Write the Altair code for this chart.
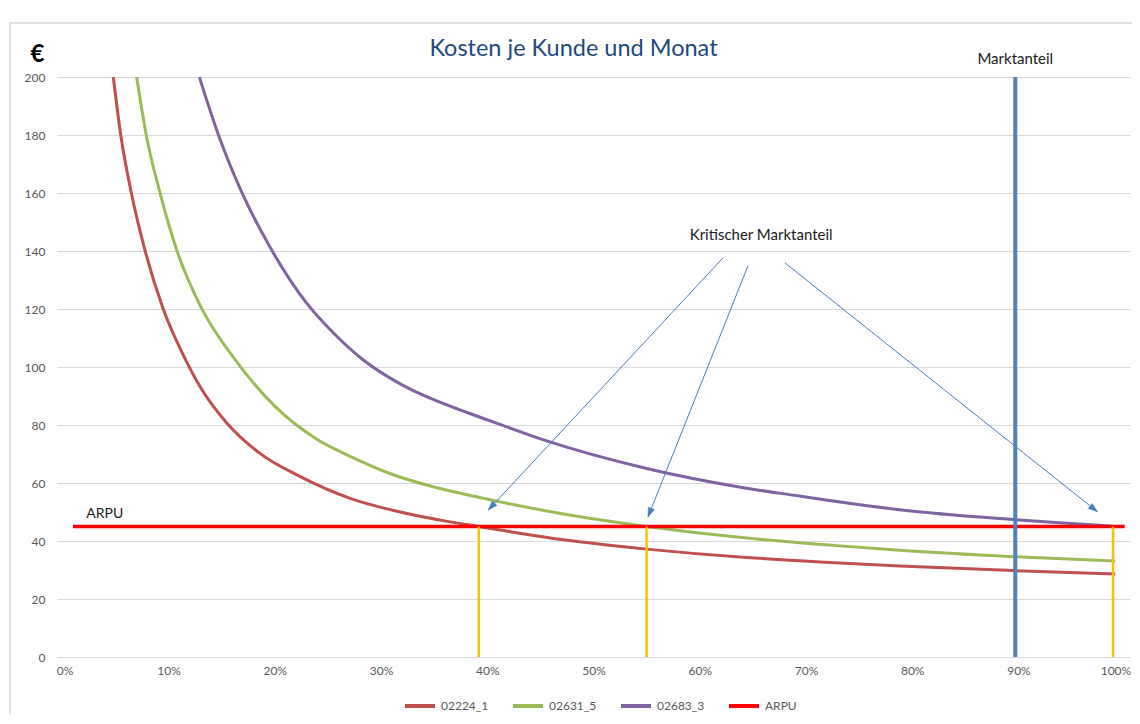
import math
import altair as alt
import pandas as pd

# ---------------- data ----------------
red_pct = [0.048, 0.055, 0.065, 0.078, 0.095, 0.114, 0.130, 0.155, 0.186, 0.224, 0.271, 0.318,
           0.365, 0.392, 0.412, 0.472, 0.550, 0.644, 0.694, 0.722, 0.788, 0.895, 0.991]
red_val = [200, 180, 160, 140, 120, 104.0, 93.0, 80.6, 70.2, 62.2, 54.7, 50.0,
           46.6, 45.0, 43.8, 40.4, 37.2, 34.3, 33.2, 32.6, 31.4, 29.8, 28.6]

green_pct = [0.070, 0.079, 0.092, 0.108, 0.130, 0.163, 0.200, 0.240, 0.271, 0.309, 0.349,
             0.393, 0.412, 0.472, 0.550, 0.644, 0.694, 0.722, 0.788, 0.895, 0.991]
green_val = [200, 180, 160, 140, 121, 102.4, 86.5, 75.0, 69.2, 63.2, 58.7,
             55.0, 53.5, 49.3, 45.0, 41.0, 39.4, 38.6, 36.8, 34.6, 33.1]

purple_pct = [0.129, 0.147, 0.168, 0.196, 0.230, 0.255, 0.283, 0.318, 0.349, 0.381, 0.412,
              0.456, 0.550, 0.644, 0.694, 0.722, 0.788, 0.895, 0.976, 0.990]
purple_val = [200, 180, 161, 141, 122, 111.8, 102.5, 94.2, 88.8, 84.3, 80.2,
              74.5, 65.0, 58.2, 55.5, 54.0, 50.8, 47.4, 45.4, 45.0]

series_names = ["02224_1", "02631_5", "02683_3", "ARPU"]
series_colors = ["#C0504D", "#9BBB59", "#8064A2", "#FF0000"]

arpu_value = 45
arpu_pct = [0.01, 1.0]

critical_pct = [0.392, 0.550, 0.989]   # yellow lines
market_share = 0.897                   # blue line

# arrows: start (near label) -> end (at critical point)
arrow_x1 = [0.6218, 0.6453, 0.6802]
arrow_y1 = [137.6, 134.8, 135.9]
arrow_x2 = [0.4010, 0.5513, 0.9743]
arrow_y2 = [50.7, 48.3, 50.1]

x_ticks = [0, 0.1, 0.2, 0.3, 0.4, 0.5, 0.6, 0.7, 0.8, 0.9, 1.0]
y_ticks = list(range(0, 201, 20))

# ---------------- layout ----------------
W, H = 1073, 580
XD = [-0.005, 1.005]
YD = [0, 200]
FONT = "Lato"


def px(x):
    return (x - XD[0]) / (XD[1] - XD[0]) * W


def py(y):
    return H - (y - YD[0]) / (YD[1] - YD[0]) * H


rows = []
for name, xs, ys in [("02224_1", red_pct, red_val), ("02631_5", green_pct, green_val),
                     ("02683_3", purple_pct, purple_val)]:
    for x, y in zip(xs, ys):
        rows.append({"series": name, "pct": x, "cost": y})
curves = pd.DataFrame(rows)
arpu = pd.DataFrame({"series": "ARPU", "pct": arpu_pct, "cost": [arpu_value] * len(arpu_pct)})

crit = pd.DataFrame({"pct": critical_pct, "y0": 0, "y1": arpu_value})
market = pd.DataFrame({"pct": [market_share], "y0": [0], "y1": [200]})

arrows = pd.DataFrame({"x1": arrow_x1, "y1": arrow_y1, "x2": arrow_x2, "y2": arrow_y2})
heads = []
for a, b, c, d in zip(arrow_x1, arrow_y1, arrow_x2, arrow_y2):
    dx = px(c) - px(a)
    dy = py(d) - py(b)
    L = math.hypot(dx, dy)
    ux, uy = dx / L, dy / L
    ang = math.degrees(math.atan2(dx, -dy)) % 360
    back = 5.0
    hx = c - ux * back * (XD[1] - XD[0]) / W
    hy = d + uy * back * (YD[1] - YD[0]) / H
    heads.append({"pct": hx, "cost": hy, "angle": ang})
heads = pd.DataFrame(heads)

xscale = alt.Scale(domain=XD, nice=False, zero=False)
yscale = alt.Scale(domain=YD, nice=False)
xaxis = alt.Axis(values=x_ticks, format=".0%", grid=False, domain=False, ticks=False,
                 labelColor="#595959", labelFontSize=12, labelFont=FONT, labelPadding=8,
                 labelFlush=8, labelFlushOffset=6, title=None)
yaxis = alt.Axis(values=y_ticks, grid=True, gridColor="#D9D9D9", gridWidth=1, domain=False,
                 ticks=False, labelColor="#595959", labelFontSize=12, labelFont=FONT,
                 labelPadding=12, title="€", titleAngle=0, titleAlign="center",
                 titleBaseline="middle", titleX=-20, titleY=-23, titleFontSize=24,
                 titleFont=FONT, titleFontWeight="bold", titleColor="#000000")

color = alt.Color("series:N",
                  scale=alt.Scale(domain=series_names, range=series_colors),
                  legend=alt.Legend(orient="none", legendX=346, legendY=612,
                                    direction="horizontal", title=None,
                                    symbolType="stroke", symbolSize=900,
                                    symbolStrokeWidth=4, labelFontSize=12,
                                    labelColor="#595959", labelFont=FONT,
                                    labelOffset=4, columnPadding=16))

frame = alt.Chart(alt.Data(values=[{"a": 1}])).mark_rect(
    filled=False, stroke="#D9D9D9", strokeWidth=1.5).encode(
    x=alt.value(-47), y=alt.value(-54), x2=alt.value(1130), y2=alt.value(720))

lines = alt.Chart(curves).mark_line(strokeWidth=3, interpolate="monotone").encode(
    x=alt.X("pct:Q", scale=xscale, axis=xaxis),
    y=alt.Y("cost:Q", scale=yscale, axis=yaxis),
    color=color, order=alt.Order("pct:Q"))

arpu_line = alt.Chart(arpu).mark_line(strokeWidth=3.5).encode(
    x=alt.X("pct:Q", scale=xscale, axis=xaxis),
    y=alt.Y("cost:Q", scale=yscale, axis=yaxis),
    color=color)

crit_rules = alt.Chart(crit).mark_rule(color="#FFC000", strokeWidth=2.5).encode(
    x=alt.X("pct:Q", scale=xscale, axis=xaxis),
    y=alt.Y("y0:Q", scale=yscale, axis=yaxis), y2="y1:Q")

market_rule = alt.Chart(market).mark_rule(color="#4F81BD", strokeWidth=4).encode(
    x=alt.X("pct:Q", scale=xscale, axis=xaxis),
    y=alt.Y("y0:Q", scale=yscale, axis=yaxis), y2="y1:Q")

arrow_lines = alt.Chart(arrows).mark_rule(color="#4A7EBB", strokeWidth=1).encode(
    x=alt.X("x1:Q", scale=xscale, axis=xaxis),
    y=alt.Y("y1:Q", scale=yscale, axis=yaxis), x2="x2:Q", y2="y2:Q")

arrow_heads = alt.Chart(heads).mark_point(
    shape="M0,-1L0.6,0.8L-0.6,0.8Z", filled=True, fill="#4A7EBB", stroke="#4A7EBB",
    strokeWidth=0.5, opacity=1, size=110).encode(
    x=alt.X("pct:Q", scale=xscale, axis=xaxis),
    y=alt.Y("cost:Q", scale=yscale, axis=yaxis),
    angle=alt.Angle("angle:Q", scale=None))

labels = pd.DataFrame({
    "text": ["Kritischer Marktanteil", "Marktanteil", "ARPU"],
    "pct": [0.6578, market_share, 0.0226],
    "cost": [145.5, 206.2, 49.4],
    "align": ["center", "center", "left"],
})
text_center = alt.Chart(labels[labels["align"] == "center"]).mark_text(
    font=FONT, fontSize=15, color="#1A1A1A", align="center", baseline="middle").encode(
    x=alt.X("pct:Q", scale=xscale, axis=xaxis),
    y=alt.Y("cost:Q", scale=yscale, axis=yaxis), text="text:N")
text_left = alt.Chart(labels[labels["align"] == "left"]).mark_text(
    font=FONT, fontSize=14, color="#1A1A1A", align="left", baseline="middle").encode(
    x=alt.X("pct:Q", scale=xscale, axis=xaxis),
    y=alt.Y("cost:Q", scale=yscale, axis=yaxis), text="text:N")

chart = alt.layer(
    frame, lines, arpu_line, crit_rules, market_rule, arrow_lines, arrow_heads,
    text_center, text_left
).properties(
    width=W, height=H,
    title=alt.TitleParams("Kosten je Kunde und Monat", font=FONT, fontSize=23.5,
                          fontWeight="normal", color="#1F497D", anchor="middle",
                          dx=-20, offset=-57, baseline="alphabetic"),
    autosize=alt.AutoSizeParams(type="none"),
    padding={"left": 49, "top": 69, "right": 2, "bottom": 57},
).configure_view(stroke=None)

chart.save("out.html", embed_options={"renderer": "svg", "actions": False})
